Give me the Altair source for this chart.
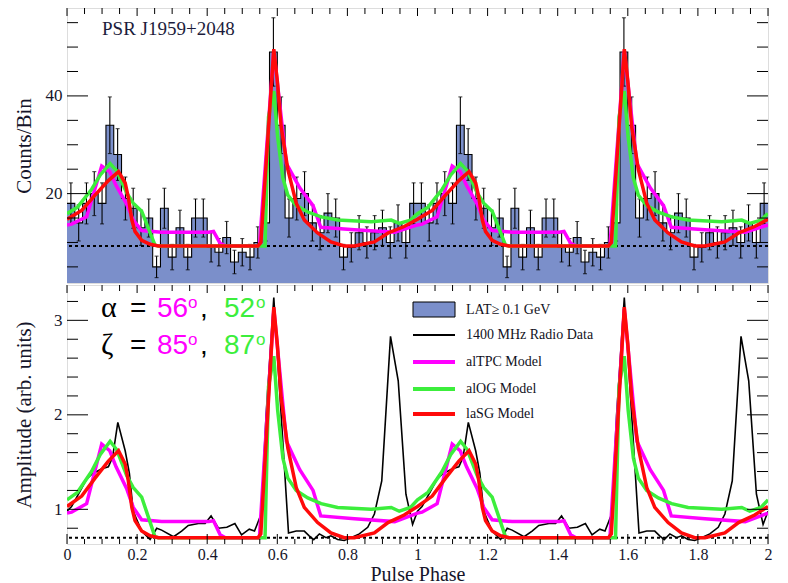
import altair as alt
import pandas as pd

# ---------------- data ----------------
N_BINS = 45  # bins per rotation
lat_counts = [18, 14, 18, 20, 18, 34, 28, 19, 17, 13, 15, 5, 17, 7, 13, 7, 15, 15, 9, 8,
              11, 6, 8, 7, 10, 14, 49, 34, 15, 19, 20, 14, 12, 16, 15, 7, 9, 12, 10, 12,
              13, 10, 14, 10, 18]
lat_errors = [4.2, 3.7, 4.2, 4.5, 4.2, 5.8, 5.3, 4.4, 4.1, 3.6, 3.9, 2.2, 4.1, 2.6, 3.6, 2.6,
              3.9, 3.9, 3.0, 2.8, 3.3, 2.4, 2.8, 2.6, 3.2, 3.7, 7.0, 5.8, 3.9, 4.4, 4.5, 3.7,
              3.5, 4.0, 3.9, 2.6, 3.0, 3.5, 3.2, 3.5, 3.6, 3.2, 3.7, 3.2, 4.2]
BG_COUNTS = 9.3
BG_AMP = 0.70
COUNTS_PER_AMP = 16.5

radio_phase = [0.000, 0.013, 0.037, 0.056, 0.070, 0.099, 0.118, 0.130, 0.145, 0.166, 0.178,
               0.189, 0.213, 0.237, 0.256, 0.270, 0.304, 0.327, 0.346, 0.375, 0.394, 0.411,
               0.432, 0.456, 0.479, 0.498, 0.520, 0.535, 0.554, 0.568, 0.590, 0.611, 0.632,
               0.654, 0.677, 0.691, 0.704, 0.720, 0.739, 0.753, 0.772, 0.791, 0.810, 0.834,
               0.858, 0.877, 0.898, 0.923, 0.945, 0.967, 0.986, 1.000]
radio_amp = [0.98, 1.03, 1.19, 1.32, 1.37, 1.43, 1.45, 1.55, 1.92, 1.62, 1.38,
             0.98, 0.77, 0.68, 0.80, 0.78, 0.71, 0.77, 0.83, 0.85, 0.85, 0.93,
             0.80, 0.81, 0.85, 0.73, 0.79, 0.77, 0.95, 2.00, 3.24, 2.00, 0.75,
             0.77, 0.77, 0.72, 0.68, 0.74, 0.70, 0.72, 0.68, 0.67, 0.70, 0.74,
             0.81, 0.95, 1.30, 2.83, 2.36, 1.16, 0.84, 0.98]

tpc_phase = [0.000, 0.013, 0.056, 0.099, 0.122, 0.140, 0.170, 0.189, 0.213, 0.270, 0.404,
             0.418, 0.437, 0.452, 0.549, 0.590, 0.626, 0.664, 0.702, 0.724, 0.820, 0.935, 1.000]
tpc_amp = [0.96, 0.97, 1.06, 1.69, 1.62, 1.45, 1.22, 1.02, 0.89, 0.87, 0.87,
           0.88, 0.73, 0.70, 0.70, 3.12, 1.72, 1.42, 1.20, 0.93, 0.90, 0.87, 0.96]

og_phase = [0.000, 0.030, 0.070, 0.095, 0.123, 0.142, 0.170, 0.189, 0.213, 0.232, 0.251,
            0.260, 0.565, 0.575, 0.590, 0.601, 0.616, 0.630, 0.654, 0.687, 0.725, 0.772,
            0.868, 0.925, 0.948, 0.980, 1.000]
og_amp = [1.10, 1.18, 1.40, 1.58, 1.72, 1.63, 1.36, 1.23, 1.13, 0.92, 0.71,
          0.70, 0.70, 2.30, 2.62, 2.05, 1.54, 1.33, 1.20, 1.12, 1.06, 1.02,
          1.00, 1.02, 0.98, 1.02, 1.10]

sg_phase = [0.000, 0.042, 0.080, 0.118, 0.147, 0.166, 0.175, 0.185, 0.194, 0.213, 0.237,
            0.261, 0.545, 0.553, 0.590, 0.600, 0.611, 0.630, 0.654, 0.677, 0.715, 0.753,
            0.791, 0.820, 0.877, 0.916, 0.962, 1.000]
sg_amp = [1.03, 1.14, 1.33, 1.51, 1.62, 1.48, 1.30, 1.02, 0.88, 0.77, 0.72,
          0.70, 0.70, 0.74, 3.14, 2.75, 2.18, 1.65, 1.23, 1.02, 0.86, 0.75,
          0.70, 0.70, 0.75, 0.86, 0.94, 1.03]

model_colors = ["#ff00ff", "#3cee3c", "#ff0a0a"]
legend_labels = ["LAT\u2265 0.1 GeV", "1400 MHz Radio Data", "alTPC Model", "alOG Model", "laSG Model"]

x_labels = [0, 0.2, 0.4, 0.6, 0.8, 1, 1.2, 1.4, 1.6, 1.8, 2]
top_y_labels = [20, 40]
bot_y_labels = [1, 2, 3]

# ---------------- layout / style ----------------
W = 701
H_TOP = 275
H_BOT = 259
BLUE = "#7b8fca"
SERIF = "Liberation Serif"
SANS = "Liberation Sans"
TXT = "#15152a"
TITLE_SIZE = 21

# ---------------- tables ----------------
rows = []
for rot in (0, 1):
    for i, c in enumerate(lat_counts):
        lo = rot + i / N_BINS
        hi = rot + (i + 1) / N_BINS
        rows.append({"lo": lo, "hi": hi, "mid": (lo + hi) / 2, "count": c,
                     "elo": c - lat_errors[i], "ehi": c + lat_errors[i]})
hist = pd.DataFrame(rows)
step = pd.concat([hist[["lo", "count"]],
                  pd.DataFrame({"lo": [2.0], "count": [lat_counts[-1]]})], ignore_index=True)


def curve(ph, am):
    out = []
    for rot in (0, 1):
        for p, a in zip(ph, am):
            out.append({"phase": p + rot, "amp": a})
    return pd.DataFrame(out)


radio = curve(radio_phase, radio_amp)
models = [curve(tpc_phase, tpc_amp), curve(og_phase, og_amp), curve(sg_phase, sg_amp)]

xs = alt.Scale(domain=[0, 2], nice=False, zero=False)
ys_top = alt.Scale(domain=[1.7, 58], nice=False, zero=False)
ys_bot = alt.Scale(domain=[0.633, 3.374], nice=False, zero=False)

one = pd.DataFrame({"k": [0]})

# axes (same object on every layer of a panel so that they merge cleanly)
AX_TOP_Y = alt.Axis(values=top_y_labels, title="Counts/Bin", ticks=False, domain=False, grid=False,
                    labelFont=SERIF, labelFontSize=17, labelColor=TXT, labelPadding=5,
                    titleFont=SERIF, titleFontSize=TITLE_SIZE, titleFontWeight="normal", titleColor=TXT,
                    titleX=-33, titleY=H_TOP / 2, titleAnchor="middle")
AX_BOT_Y = alt.Axis(values=bot_y_labels, title="Amplitude (arb. units)", ticks=False, domain=False, grid=False,
                    labelFont=SERIF, labelFontSize=17, labelColor=TXT, labelPadding=5,
                    titleFont=SERIF, titleFontSize=TITLE_SIZE, titleFontWeight="normal", titleColor=TXT,
                    titleX=-33, titleY=H_BOT / 2, titleAnchor="middle")
AX_BOT_X = alt.Axis(values=x_labels, format="~g", ticks=False, domain=False, grid=False,
                    labelFont=SERIF, labelFontSize=16, labelColor=TXT, labelPadding=2,
                    labelOverlap=False, labelFlush=False,
                    title="Pulse Phase", titleFont=SERIF, titleFontSize=20, titleFontWeight="normal",
                    titleColor=TXT, titlePadding=2)


def txt(s, x, y, color=TXT, size=14, font=SERIF, baseline="alphabetic"):
    return alt.Chart(pd.DataFrame({"t": [s]})).mark_text(
        align="left", baseline=baseline, font=font, fontSize=size, color=color
    ).encode(x=alt.value(x), y=alt.value(y), text="t:N")


def yticks(values, scale, axis, length):
    d = pd.DataFrame({"v": values})
    left = alt.Chart(d).mark_rule(color="black", strokeWidth=1).encode(
        y=alt.Y("v:Q", scale=scale, axis=axis), x=alt.value(0), x2=alt.value(length))
    right = alt.Chart(d).mark_rule(color="black", strokeWidth=1).encode(
        y=alt.Y("v:Q", scale=scale, axis=axis), x=alt.value(W), x2=alt.value(W - length))
    return [left, right]


def xticks(values, axis, length, y0, direction):
    d = pd.DataFrame({"v": values})
    return alt.Chart(d).mark_rule(color="black", strokeWidth=1).encode(
        x=alt.X("v:Q", scale=xs, axis=axis), y=alt.value(y0), y2=alt.value(y0 + direction * length))


x_minor = [round(i * 0.05, 2) for i in range(41) if i % 4 != 0]
top_minor = [v for v in range(5, 60, 5) if v not in top_y_labels]
bot_minor = [round(0.8 + 0.2 * i, 1) for i in range(13) if round(0.8 + 0.2 * i, 1) not in bot_y_labels]

# ---------------- top panel ----------------
XT = alt.X("lo:Q", scale=xs, axis=None)

area = alt.Chart(step).mark_area(interpolate="step-after", color=BLUE, clip=True).encode(
    x=XT, y=alt.Y("count:Q", scale=ys_top, axis=AX_TOP_Y), y2=alt.datum(0))

white = alt.Chart(hist).transform_filter(f"datum.count < {BG_COUNTS}").mark_rect(color="white", clip=True).encode(
    x=XT, x2="hi:Q", y=alt.Y("count:Q", scale=ys_top, axis=AX_TOP_Y), y2=alt.datum(BG_COUNTS))

outline = alt.Chart(step).mark_line(interpolate="step-after", color="black", strokeWidth=1.1, clip=True).encode(
    x=XT, y=alt.Y("count:Q", scale=ys_top, axis=AX_TOP_Y))

XM = alt.X("mid:Q", scale=xs, axis=None)
err = alt.Chart(hist).mark_rule(color="black", strokeWidth=1.1, clip=True).encode(
    x=XM, y=alt.Y("elo:Q", scale=ys_top, axis=AX_TOP_Y), y2="ehi:Q")
cap_lo = alt.Chart(hist).mark_tick(color="black", orient="horizontal", size=4, thickness=1.1, clip=True).encode(
    x=XM, y=alt.Y("elo:Q", scale=ys_top, axis=AX_TOP_Y))
cap_hi = alt.Chart(hist).mark_tick(color="black", orient="horizontal", size=4, thickness=1.1, clip=True).encode(
    x=XM, y=alt.Y("ehi:Q", scale=ys_top, axis=AX_TOP_Y))

bg_top = alt.Chart(one).transform_calculate(k2=str(BG_COUNTS)).mark_rule(
    color="black", strokeWidth=2, strokeDash=[3, 3]).encode(y=alt.Y("k2:Q", scale=ys_top, axis=AX_TOP_Y))

top_models = []
for df, col in zip(models, model_colors):
    top_models.append(
        alt.Chart(df).transform_calculate(
            cnt=f"{BG_COUNTS} + (datum.amp - {BG_AMP}) * {COUNTS_PER_AMP}"
        ).mark_line(color=col, strokeWidth=3.5, clip=True).encode(
            x=alt.X("phase:Q", scale=xs, axis=None), y=alt.Y("cnt:Q", scale=ys_top, axis=AX_TOP_Y)))

top_layers = [area, white, outline, err, cap_lo, cap_hi, bg_top] + top_models
top_layers += yticks(top_y_labels, ys_top, AX_TOP_Y, 21) + yticks(top_minor, ys_top, AX_TOP_Y, 11)
top_layers += [xticks(x_labels, None, 8, 0, 1), xticks(x_minor, None, 6, 0, 1)]
top_layers += [txt("PSR J1959+2048", 35, 27, color="#1c1c3c", size=19)]

top = alt.layer(*top_layers).properties(width=W, height=H_TOP)

# ---------------- bottom panel ----------------
XB = alt.X("phase:Q", scale=xs, axis=AX_BOT_X)
radio_line = alt.Chart(radio).mark_line(color="black", strokeWidth=1.6, clip=True).encode(
    x=XB, y=alt.Y("amp:Q", scale=ys_bot, axis=AX_BOT_Y))

bg_bot = alt.Chart(one).transform_calculate(k2=str(BG_AMP)).mark_rule(
    color="black", strokeWidth=2, strokeDash=[3, 3]).encode(y=alt.Y("k2:Q", scale=ys_bot, axis=AX_BOT_Y))

bot_models = []
for df, col in zip(models, model_colors):
    bot_models.append(alt.Chart(df).mark_line(color=col, strokeWidth=3.5, clip=True).encode(
        x=XB, y=alt.Y("amp:Q", scale=ys_bot, axis=AX_BOT_Y)))

bot_layers = [bg_bot, radio_line] + bot_models
bot_layers += yticks(bot_y_labels, ys_bot, AX_BOT_Y, 21) + yticks(bot_minor, ys_bot, AX_BOT_Y, 11)
bot_layers += [xticks(x_labels, AX_BOT_X, 8, 0, 1), xticks(x_minor, AX_BOT_X, 6, 0, 1),
               xticks(x_labels, AX_BOT_X, 10, H_BOT, -1), xticks(x_minor, AX_BOT_X, 5, H_BOT, -1)]

# legend (drawn by hand, ROOT style)
LX0, LX1, LTX = 346, 388, 399
leg_rows = [25, 50, 77, 104, 129]
bot_layers.append(alt.Chart(one).mark_rect(fill=BLUE, stroke="black", strokeWidth=1).encode(
    x=alt.value(LX0), x2=alt.value(LX1), y=alt.value(leg_rows[0] - 8), y2=alt.value(leg_rows[0] + 7)))
line_styles = [("black", 2)] + [(c, 4) for c in model_colors]
for yy, (col, sw) in zip(leg_rows[1:], line_styles):
    bot_layers.append(alt.Chart(one).mark_rule(color=col, strokeWidth=sw).encode(
        x=alt.value(LX0), x2=alt.value(LX1), y=alt.value(yy)))
for yy, lab in zip(leg_rows, legend_labels):
    bot_layers.append(txt(lab, LTX, yy, color="#111122", size=14, baseline="middle"))

# angle annotations
MAG, GRN = model_colors[0], model_colors[1]
for base, sym, a, b in [(32, "\u03b1", "56", "52"), (69, "\u03b6", "85", "87")]:
    bot_layers += [
        txt(sym, 34, base, color="black", size=30, font=SERIF),
        txt("=", 63, base, color="black", size=28, font=SANS),
        txt(a, 90, base, color=MAG, size=28, font=SANS),
        txt("o", 121, base - 9, color=MAG, size=17, font=SANS),
        txt(",", 133, base, color="black", size=28, font=SANS),
        txt(b, 157, base, color=GRN, size=28, font=SANS),
        txt("o", 189, base - 9, color=GRN, size=17, font=SANS),
    ]

bottom = alt.layer(*bot_layers).properties(width=W, height=H_BOT)

chart = alt.vconcat(top, bottom, spacing=0).properties(
    padding={"left": 12, "top": 7, "right": 10, "bottom": 0}
).configure_view(stroke="black", strokeWidth=1.5).configure(background="white")

chart.save("out.html", embed_options={"renderer": "svg", "actions": False})
